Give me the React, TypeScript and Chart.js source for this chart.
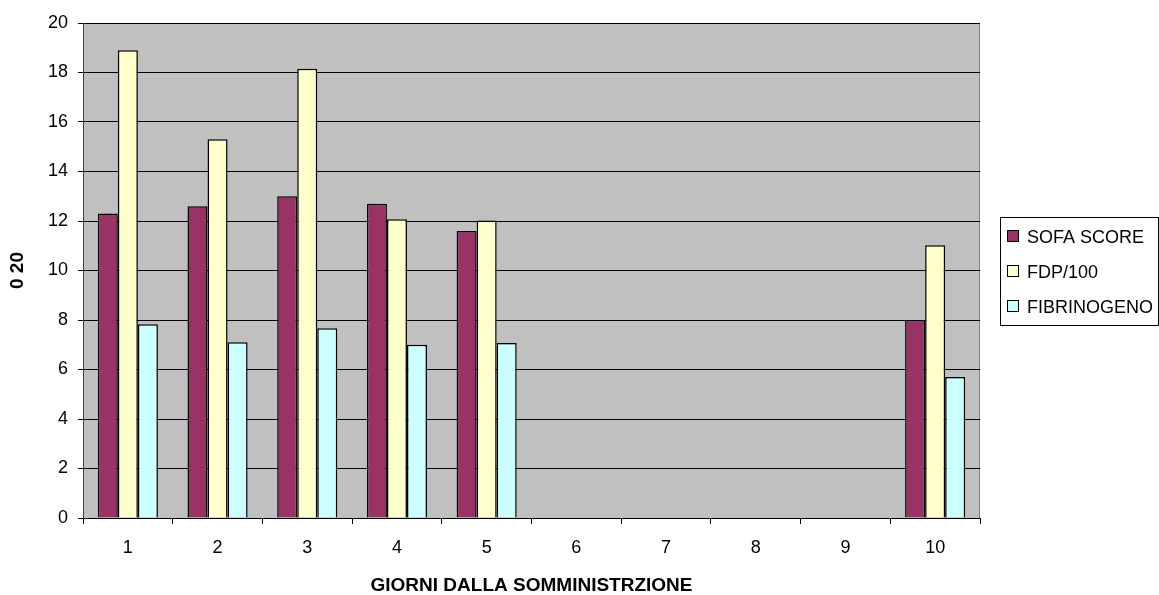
import React, { useEffect, useRef } from "react";
import { Chart, registerables } from "chart.js";

Chart.register(...registerables);

const days = ["1", "2", "3", "4", "5", "6", "7", "8", "9", "10"];
const sofaScore = [12.3, 12.6, 13.0, 12.7, 11.6, null, null, null, null, 8.0];
const fdp100 = [18.9, 15.3, 18.15, 12.07, 12.02, null, null, null, null, 11.02];
const fibrinogeno = [7.83, 7.1, 7.67, 7.0, 7.07, null, null, null, null, 5.7];
const seriesNames = ["SOFA SCORE", "FDP/100", "FIBRINOGENO"];
const seriesColors = ["#993366", "#FFFFCC", "#CCFFFF"];
const yTitle = "0 20";
const xTitle = "GIORNI DALLA SOMMINISTRZIONE";

const FONT = "'Liberation Sans', Arial, sans-serif";

const plotBg = {
  id: "plotBg",
  beforeDraw(chart: any) {
    const { ctx, chartArea } = chart;
    ctx.save();
    ctx.fillStyle = "#C0C0C0";
    ctx.fillRect(chartArea.left, chartArea.top, chartArea.right - chartArea.left, chartArea.bottom - chartArea.top);
    ctx.strokeStyle = "#808080";
    ctx.lineWidth = 1;
    ctx.strokeRect(chartArea.left + 0.5, chartArea.top + 0.5, chartArea.right - chartArea.left - 1, chartArea.bottom - chartArea.top);
    ctx.restore();
  },
};

const boxLegend = {
  id: "boxLegend",
  afterDraw(chart: any) {
    const { ctx } = chart;
    const x0 = 1000.5, y0 = 217.5, w = 158, h = 108;
    ctx.save();
    ctx.fillStyle = "#FFFFFF";
    ctx.fillRect(x0, y0, w, h);
    ctx.strokeStyle = "#000000";
    ctx.lineWidth = 1;
    ctx.strokeRect(x0, y0, w, h);
    ctx.font = "18px " + FONT;
    ctx.textBaseline = "middle";
    chart.data.datasets.forEach((ds: any, i: number) => {
      const cy = 237 + i * 35;
      ctx.fillStyle = ds.backgroundColor;
      ctx.fillRect(1007.5, cy - 6.5, 11, 11);
      ctx.strokeStyle = "#000000";
      ctx.strokeRect(1007.5, cy - 6.5, 11, 11);
      ctx.fillStyle = "#000000";
      ctx.fillText(ds.label, 1027, cy + 1);
    });
    ctx.restore();
  },
};

export default function App() {
  const ref = useRef<HTMLCanvasElement>(null);
  useEffect(() => {
    document.body.style.margin = "0";
    const series = [sofaScore, fdp100, fibrinogeno];
    const chart = new Chart(ref.current!, {
      type: "bar",
      data: {
        labels: days,
        datasets: series.map((d, i) => ({
          label: seriesNames[i],
          data: d,
          backgroundColor: seriesColors[i],
          borderColor: "#000000",
          borderWidth: 1.5,
          categoryPercentage: 0.67,
          barPercentage: 1.0,
        })),
      },
      options: {
        animation: false,
        responsive: false,
        maintainAspectRatio: false,
        layout: { padding: { left: 0, right: 179, top: 23, bottom: 0 } },
        plugins: { legend: { display: false }, tooltip: { enabled: false } },
        scales: {
          x: {
            afterFit(scale: any) { scale.height = 77; },
            grid: { offset: true, drawOnChartArea: false, drawTicks: true, tickLength: 6, color: "#000000", tickColor: "#000000" },
            border: { color: "#000000", width: 1 },
            ticks: { color: "#000000", font: { size: 18, family: FONT }, padding: 13 },
            title: { display: true, text: xTitle, color: "#000000", font: { size: 19, weight: "bold", family: FONT, lineHeight: 1 }, padding: { top: 0, bottom: 0 } },
          },
          y: {
            min: 0,
            max: 20,
            afterFit(scale: any) { scale.width = 83; },
            ticks: { stepSize: 2, color: "#000000", font: { size: 18, family: FONT }, padding: 10 },
            grid: { color: "#000000", tickColor: "#000000", tickLength: 5, lineWidth: 1 },
            border: { color: "#404040", width: 1 },
            title: { display: true, text: yTitle, color: "#000000", font: { size: 19, weight: "bold", family: FONT, lineHeight: 1 }, padding: { top: 8.5, bottom: 0 } },
          },
        },
      },
      plugins: [plotBg, boxLegend],
    });
    return () => chart.destroy();
  }, []);
  return (
    <div style={{ width: 1159, height: 595, background: "#FFFFFF" }}>
      <canvas ref={ref} width={1159} height={595} />
    </div>
  );
}
